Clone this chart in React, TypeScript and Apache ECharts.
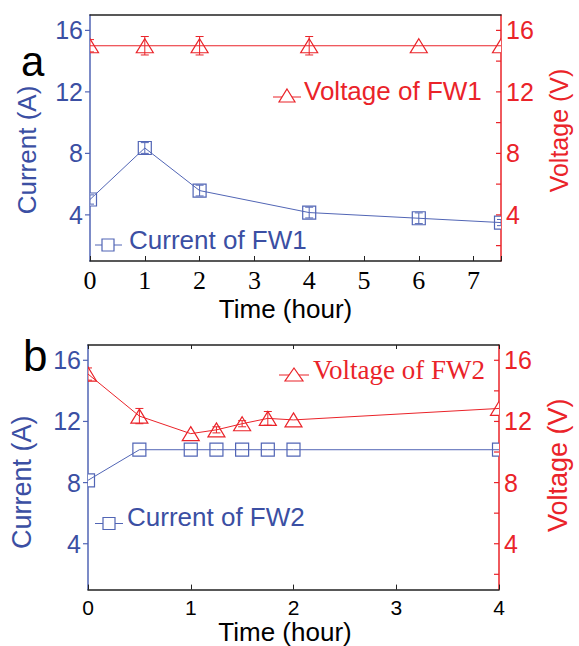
import React, { useEffect, useRef } from 'react';
import * as echarts from 'echarts';

// ---------- data ----------
const timeA = [0, 1, 2, 4, 6, 7.5];
const currentA = [5.0, 8.35, 5.58, 4.15, 3.78, 3.5];
const currentAErr = [0.3, 0.35, 0.35, 0.35, 0.35, 0.2];
const voltageA = [15.0, 15.0, 15.0, 15.0, 15.0, 15.0];
const voltageAErr = [0.4, 0.6, 0.6, 0.6, 0, 0];

const timeB = [0, 0.5, 1, 1.25, 1.5, 1.75, 2, 4];
const currentB = [8.15, 10.15, 10.15, 10.15, 10.15, 10.15, 10.15, 10.15];
const currentBErr = [0, 0, 0, 0, 0, 0, 0, 0];
const voltageB = [15.1, 12.35, 11.2, 11.45, 11.85, 12.2, 12.1, 12.85];
const voltageBErr = [0.4, 0.5, 0, 0.2, 0.2, 0.45, 0, 0];

// axis extents and tick values
const xRangeA = [0, 7.5];
const xRangeB = [0, 4];
const yRange = [1, 17];
const xLabelsA = [0, 1, 2, 3, 4, 5, 6, 7];
const yLabelValues = [4, 8, 12, 16];
const yRightTicks = [2, 4, 6, 8, 10, 12, 14, 16];

const BLUE = '#3b4fa3';
const BLUE_LINE = '#5165b5';
const RED = '#ea2329';
const SANS = "'Liberation Sans', Arial, sans-serif";
const SERIF = "'Liberation Serif', 'Times New Roman', serif";

function markerRenderer(kind: 'rect' | 'triangle', color: string) {
  return (params: any, api: any) => {
    const x = api.value(0);
    const y = api.value(1);
    const e = api.value(2);
    const c = api.coord([x, y]);
    const children: any[] = [];
    if (kind === 'rect') {
      children.push({
        type: 'rect',
        shape: { x: c[0] - 6.5, y: c[1] - 6.5, width: 13, height: 13 },
        style: { fill: '#fff', stroke: color, lineWidth: 1.2 },
      });
    } else {
      children.push({
        type: 'polygon',
        shape: {
          points: [
            [c[0], c[1] - 7],
            [c[0] + 8.5, c[1] + 7],
            [c[0] - 8.5, c[1] + 7],
          ],
        },
        style: { fill: '#fff', stroke: color, lineWidth: 1.2 },
      });
    }
    if (e > 0) {
      const t = api.coord([x, y + e]);
      const b = api.coord([x, y - e]);
      const st = { stroke: color, lineWidth: 1 };
      children.push({ type: 'line', shape: { x1: c[0], y1: t[1], x2: c[0], y2: b[1] }, style: st });
      children.push({ type: 'line', shape: { x1: c[0] - 4, y1: t[1], x2: c[0] + 4, y2: t[1] }, style: st });
      children.push({ type: 'line', shape: { x1: c[0] - 4, y1: b[1], x2: c[0] + 4, y2: b[1] }, style: st });
    }
    return { type: 'group', children };
  };
}

// y-axis ticks drawn through the axis scale (outward on left, inward on right)
function tickRenderer(color: string) {
  return (params: any, api: any) => {
    const c = api.coord([api.value(0), api.value(1)]);
    return {
      type: 'line',
      shape: { x1: c[0] - 5, y1: c[1], x2: c[0], y2: c[1] },
      style: { stroke: color, lineWidth: 1.2 },
    };
  };
}

function pts(xs: number[], ys: number[]) {
  return xs.map((x, i) => [x, ys[i]]);
}
function ptsErr(xs: number[], ys: number[], es: number[]) {
  return xs.map((x, i) => [x, ys[i], es[i]]);
}

function buildOption(): any {
  const leftY = (grid: number, nameSize: number, gap: number, pad: number[]) => ({
    type: 'value',
    gridIndex: grid,
    position: 'left',
    min: yRange[0],
    max: yRange[1],
    splitLine: { show: false },
    axisLine: { show: true, onZero: false, lineStyle: { color: BLUE_LINE, width: 1.5 } },
    axisTick: { show: false },
    axisLabel: { customValues: yLabelValues, color: BLUE, fontSize: 25, fontFamily: SANS, margin: 7 },
    name: 'Current (A)',
    nameLocation: 'middle',
    nameGap: gap,
    nameTextStyle: { color: BLUE, fontSize: nameSize, fontFamily: SANS, padding: pad },
  });
  const rightY = (grid: number, nameSize: number, gap: number, pad: number[]) => ({
    type: 'value',
    gridIndex: grid,
    position: 'right',
    min: yRange[0],
    max: yRange[1],
    splitLine: { show: false },
    axisLine: { show: true, onZero: false, lineStyle: { color: RED, width: 1.5 } },
    axisTick: { show: false },
    axisLabel: { customValues: yLabelValues, color: RED, fontSize: 25, fontFamily: SANS, margin: 5 },
    name: 'Voltage (V)',
    nameLocation: 'middle',
    nameGap: gap,
    nameRotate: 90,
    nameTextStyle: { color: RED, fontSize: nameSize, fontFamily: SANS, padding: pad },
  });
  const tickSeries = (xi: number, yi: number, xEdge: number, values: number[], color: string) => ({
    type: 'custom',
    xAxisIndex: xi,
    yAxisIndex: yi,
    silent: true,
    clip: false,
    z: 5,
    data: values.map((v) => [xEdge, v]),
    encode: { x: 0, y: 1 },
    renderItem: tickRenderer(color),
  });
  const xAxisBase = {
    type: 'value',
    splitLine: { show: false },
    axisLine: { show: true, onZero: false, lineStyle: { color: '#222', width: 1.5 } },
  };

  return {
    animation: false,
    backgroundColor: '#fff',
    grid: [
      { left: 90, top: 15, width: 413, height: 246 },
      { left: 88, top: 345, width: 415, height: 247 },
    ],
    xAxis: [
      {
        ...xAxisBase,
        gridIndex: 0,
        position: 'bottom',
        min: xRangeA[0],
        max: xRangeA[1],
        interval: 1,
        axisTick: { show: true, inside: true, length: 5, lineStyle: { color: '#222' } },
        axisLabel: { customValues: xLabelsA, color: '#000', fontSize: 26, fontFamily: SERIF, margin: 6 },
        name: 'Time (hour)',
        nameLocation: 'middle',
        nameGap: 35,
        nameTextStyle: { color: '#000', fontSize: 26, fontFamily: SANS, padding: [0, 20, 0, 0] },
      },
      {
        ...xAxisBase,
        gridIndex: 0,
        position: 'top',
        min: xRangeA[0],
        max: xRangeA[1],
        axisTick: { show: false },
        axisLabel: { show: false },
      },
      {
        ...xAxisBase,
        gridIndex: 1,
        position: 'bottom',
        min: xRangeB[0],
        max: xRangeB[1],
        interval: 1,
        axisTick: { show: true, inside: true, length: 5, lineStyle: { color: '#222' } },
        axisLabel: { color: '#000', fontSize: 21, lineHeight: 18, fontFamily: SANS, margin: 9 },
        name: 'Time (hour)',
        nameLocation: 'middle',
        nameGap: 27,
        nameTextStyle: { color: '#000', fontSize: 26, lineHeight: 26, fontFamily: SANS, padding: [0, 17, 0, 0] },
      },
      {
        ...xAxisBase,
        gridIndex: 1,
        position: 'top',
        min: xRangeB[0],
        max: xRangeB[1],
        interval: 1,
        axisTick: { show: true, inside: true, length: 4, lineStyle: { color: '#222' } },
        axisLabel: { show: false },
      },
    ],
    yAxis: [
      leftY(0, 26, 50, [0, 24, 0, 0]),
      rightY(0, 25, 45, [0, 0, 0, 15]),
      leftY(1, 27, 53, [0, 30, 0, 0]),
      rightY(1, 27, 45, [0, 0, 0, 4]),
    ],
    series: [
      {
        name: 'Voltage of FW1',
        type: 'line',
        xAxisIndex: 0,
        yAxisIndex: 1,
        data: pts(timeA, voltageA),
        symbol: 'none',
        lineStyle: { color: RED, width: 1 },
        clip: true,
      },
      {
        name: 'Current of FW1',
        type: 'line',
        xAxisIndex: 0,
        yAxisIndex: 0,
        data: pts(timeA, currentA),
        symbol: 'none',
        lineStyle: { color: BLUE_LINE, width: 1 },
        clip: true,
      },
      {
        name: 'Voltage of FW1 markers',
        type: 'custom',
        xAxisIndex: 0,
        yAxisIndex: 1,
        clip: true,
        data: ptsErr(timeA, voltageA, voltageAErr),
        encode: { x: 0, y: 1 },
        renderItem: markerRenderer('triangle', RED),
      },
      {
        name: 'Current of FW1 markers',
        type: 'custom',
        xAxisIndex: 0,
        yAxisIndex: 0,
        clip: true,
        data: ptsErr(timeA, currentA, currentAErr),
        encode: { x: 0, y: 1 },
        renderItem: markerRenderer('rect', BLUE_LINE),
      },
      {
        name: 'Voltage of FW2',
        type: 'line',
        xAxisIndex: 2,
        yAxisIndex: 3,
        data: pts(timeB, voltageB),
        symbol: 'none',
        lineStyle: { color: RED, width: 1 },
        clip: true,
      },
      {
        name: 'Current of FW2',
        type: 'line',
        xAxisIndex: 2,
        yAxisIndex: 2,
        data: pts(timeB, currentB),
        symbol: 'none',
        lineStyle: { color: BLUE_LINE, width: 1 },
        clip: true,
      },
      {
        name: 'Voltage of FW2 markers',
        type: 'custom',
        xAxisIndex: 2,
        yAxisIndex: 3,
        clip: true,
        data: ptsErr(timeB, voltageB, voltageBErr),
        encode: { x: 0, y: 1 },
        renderItem: markerRenderer('triangle', RED),
      },
      {
        name: 'Current of FW2 markers',
        type: 'custom',
        xAxisIndex: 2,
        yAxisIndex: 2,
        clip: true,
        data: ptsErr(timeB, currentB, currentBErr),
        encode: { x: 0, y: 1 },
        renderItem: markerRenderer('rect', BLUE_LINE),
      },
      tickSeries(0, 0, xRangeA[0], yLabelValues, BLUE_LINE),
      tickSeries(0, 1, xRangeA[1], yRightTicks, RED),
      tickSeries(2, 2, xRangeB[0], yLabelValues, BLUE_LINE),
      tickSeries(2, 3, xRangeB[1], yRightTicks, RED),
    ],
    graphic: [
      // panel labels
      { type: 'text', left: 21, top: 40, style: { text: 'a', fontSize: 42, fontFamily: SANS, fill: '#000' } },
      { type: 'text', left: 23, top: 333, style: { text: 'b', fontSize: 44, fontFamily: SANS, fill: '#000' } },
      // legend: Current of FW1
      { type: 'line', shape: { x1: 95, y1: 245, x2: 122, y2: 245 }, style: { stroke: BLUE_LINE, lineWidth: 1 } },
      { type: 'rect', shape: { x: 102, y: 239, width: 12, height: 12 }, style: { fill: '#fff', stroke: BLUE_LINE, lineWidth: 1.2 } },
      { type: 'text', x: 129, y: 240, style: { text: 'Current of FW1', fontSize: 26, fontFamily: SANS, fill: BLUE, verticalAlign: 'middle' } },
      // legend: Voltage of FW1
      { type: 'line', shape: { x1: 273, y1: 97, x2: 301, y2: 97 }, style: { stroke: RED, lineWidth: 1 } },
      { type: 'polygon', shape: { points: [[287, 89], [295, 102], [279, 102]] }, style: { fill: '#fff', stroke: RED, lineWidth: 1.2 } },
      { type: 'text', x: 304, y: 91, style: { text: 'Voltage of FW1', fontSize: 26, fontFamily: SANS, fill: RED, verticalAlign: 'middle' } },
      // legend: Current of FW2
      { type: 'line', shape: { x1: 95, y1: 523.5, x2: 123, y2: 523.5 }, style: { stroke: BLUE_LINE, lineWidth: 1 } },
      { type: 'rect', shape: { x: 103, y: 517.5, width: 12, height: 12 }, style: { fill: '#fff', stroke: BLUE_LINE, lineWidth: 1.2 } },
      { type: 'text', x: 127, y: 517, style: { text: 'Current of FW2', fontSize: 26, fontFamily: SANS, fill: BLUE, verticalAlign: 'middle' } },
      // legend: Voltage of FW2
      { type: 'line', shape: { x1: 279, y1: 375, x2: 309, y2: 375 }, style: { stroke: RED, lineWidth: 1 } },
      { type: 'polygon', shape: { points: [[294, 368], [303, 381], [285, 381]] }, style: { fill: '#fff', stroke: RED, lineWidth: 1.2 } },
      { type: 'text', x: 313, y: 370, style: { text: 'Voltage of FW2', fontSize: 27, fontFamily: SERIF, fill: RED, verticalAlign: 'middle' } },
    ],
  };
}

export default function App() {
  const ref = useRef<HTMLDivElement>(null);
  useEffect(() => {
    if (!ref.current) return;
    const chart = echarts.init(ref.current, null, { renderer: 'svg' });
    chart.setOption(buildOption());
    return () => {
      chart.dispose();
    };
  }, []);
  return (
    <div
      ref={ref}
      style={{ position: 'absolute', left: 0, top: 0, width: 579, height: 646, background: '#fff' }}
    />
  );
}
